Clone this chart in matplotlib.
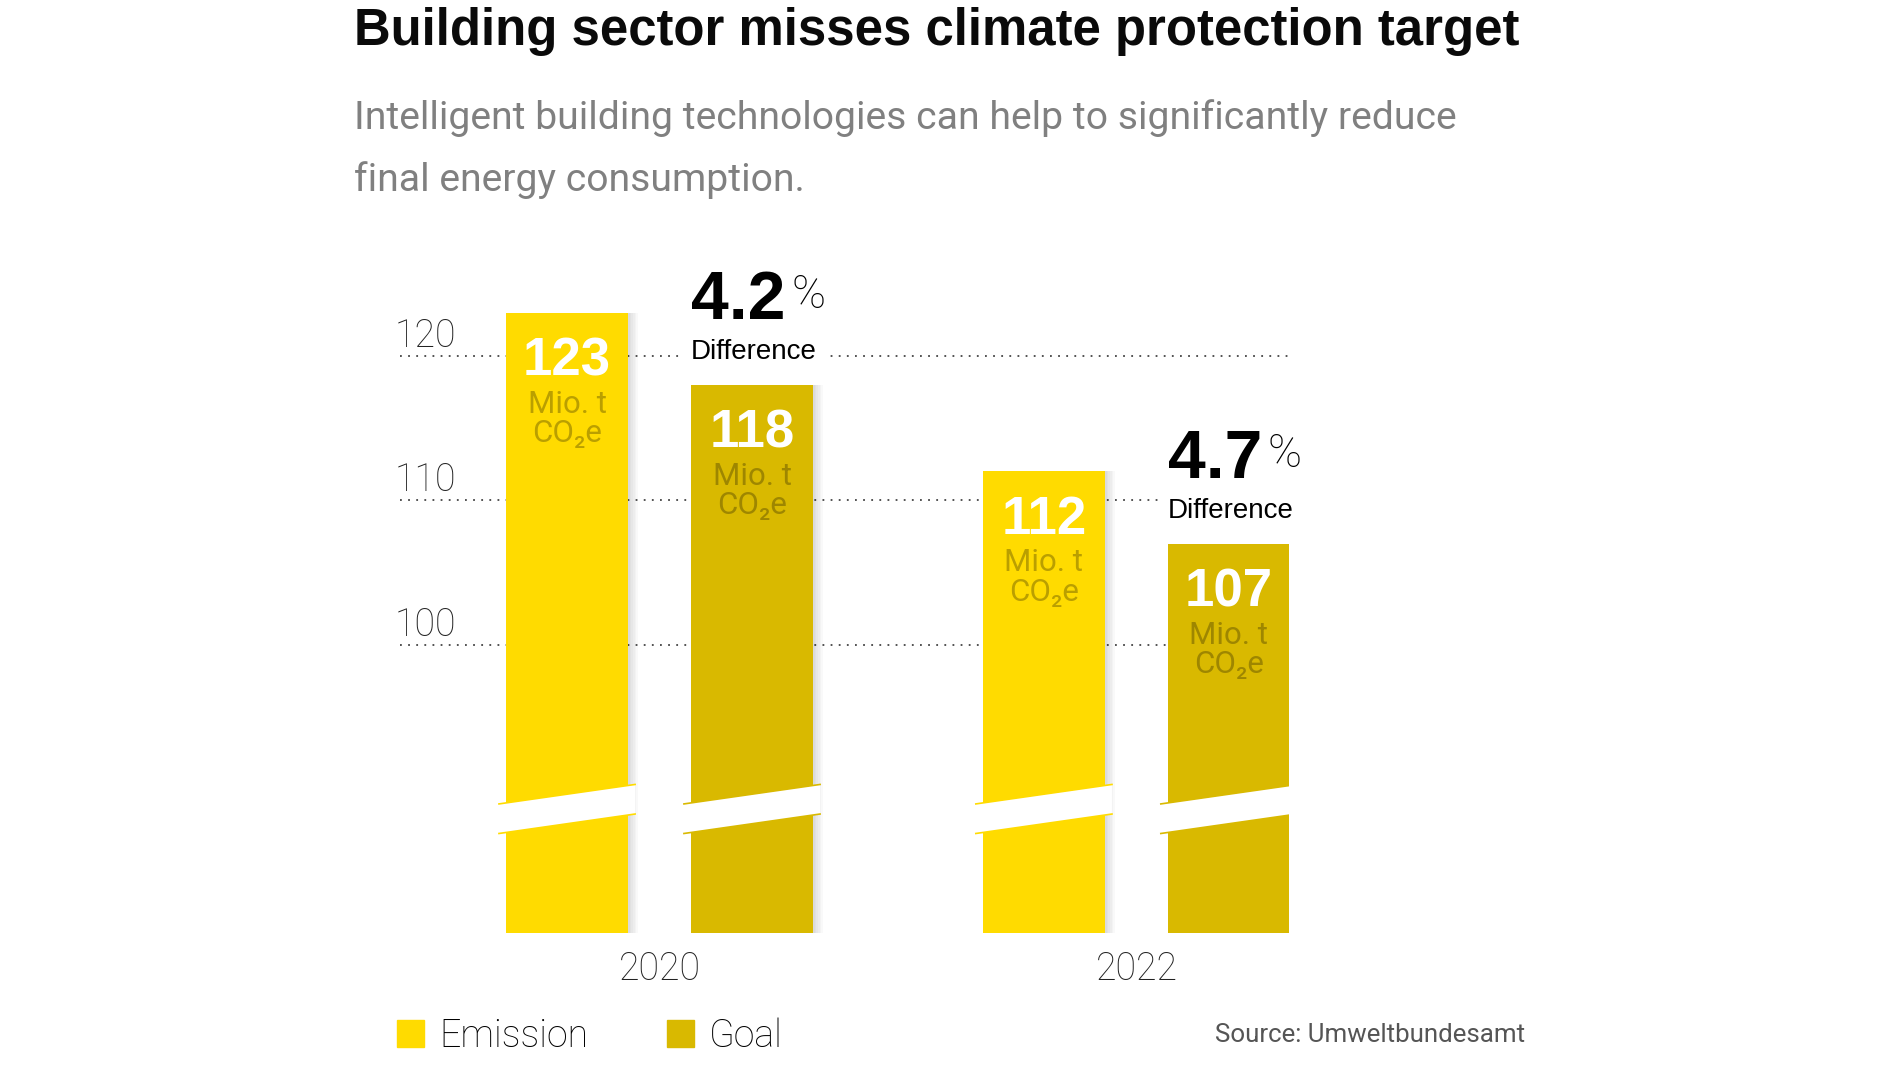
# building sector emissions vs climate target

import numpy as np
import matplotlib.pyplot as plt
from matplotlib.patches import Polygon, Patch

years = ["2020", "2022"]
series = ["Emission", "Goal"]
emission = [123, 112]
goal = [118, 107]
difference = ["4.2", "4.7"]
yticks = [100, 110, 120]
unit_top = "Mio. t"
unit_bottom = "CO₂e"

title = "Building sector misses climate protection target"
subtitle = ["Intelligent building technologies can help to significantly reduce",
            "final energy consumption."]
source = "Source: Umweltbundesamt"

yellow = "#FFDB00"
gold = "#D9B900"

LIGHT = ["Roboto", "DejaVu Sans"]
BOLD = ["Liberation Sans", "DejaVu Sans"]

W, H = 1900, 1069
fig = plt.figure(figsize=(W / 100, H / 100), dpi=100)
ax = fig.add_axes([400 / W, (H - 933) / H, 889 / W, (933 - 284) / H])
ax.set_xlim(-0.903, 3.903)
ax.set_ylim(80, 125)
ax.axis("off")

width = 0.66
x_em = np.arange(len(years)) * 2.578
x_go = x_em + 1

# dotted grid + labels sitting above the lines
for y in yticks:
    ax.axhline(y, color="#444", lw=1.3, ls=(0, (1, 3.5)), zorder=1)
    ax.annotate(str(y), (0, y), xycoords=ax.get_yaxis_transform(), xytext=(-4, 6.5),
                textcoords="offset points", ha="left", va="baseline", fontsize=27,
                family=LIGHT, fontweight="light", color="#222")

# soft shadow on the right
for xs, vals in ((x_em, emission), (x_go, goal)):
    for k in range(1, 7):
        ax.bar(xs + k * 0.009, vals, width, color="k", alpha=0.022, zorder=2)

ax.bar(x_em, emission, width, color=yellow, zorder=3)
ax.bar(x_go, goal, width, color=gold, zorder=3)

# axis break marks
d = 0.038
for xs, c in ((x_em, yellow), (x_go, gold)):
    for x in xs:
        xl, xr = x - width / 2 - d, x + width / 2 + d
        ax.add_patch(Polygon([(xl, 86.9), (xr, 88.25), (xr, 90.3), (xl, 88.95)],
                             closed=True, fc="white", ec="none", zorder=4))
        ax.plot([xl, xr], [86.9, 88.25], color=c, lw=1.2, zorder=5)
        ax.plot([xl, xr], [88.95, 90.3], color=c, lw=1.2, zorder=5)

# values inside bars
for xs, vals in ((x_em, emission), (x_go, goal)):
    for x, v in zip(xs, vals):
        ax.annotate(str(v), (x, v), xytext=(0, -45), textcoords="offset points",
                    ha="center", va="baseline", fontsize=38, fontweight="bold",
                    family=BOLD, color="white", zorder=6)
        ax.annotate(unit_top, (x, v), xytext=(0, -72), textcoords="offset points",
                    ha="center", va="baseline", fontsize=22.5, family=LIGHT,
                    color="black", alpha=0.27, zorder=6)
        ax.annotate(unit_bottom, (x, v), xytext=(0, -93), textcoords="offset points",
                    ha="center", va="baseline", fontsize=22.5, family=LIGHT,
                    color="black", alpha=0.27, zorder=6)

# difference labels above goal bars
for x, v, pct in zip(x_go, goal, difference):
    xl = x - width / 2
    t = ax.annotate(pct, (xl, v), xytext=(0, 47.5), textcoords="offset points",
                    ha="left", va="baseline", fontsize=49, fontweight="bold",
                    family=BOLD, color="black", zorder=6)
    ax.annotate("%", (1, 1), xycoords=t, xytext=(4, -3), textcoords="offset points",
                ha="left", va="top", fontsize=33, fontweight="light",
                family=LIGHT, color="black", zorder=6)
    ax.annotate("Difference", (xl, v), xytext=(0, 18.4), textcoords="offset points",
                ha="left", va="baseline", fontsize=20, family=BOLD, color="black",
                zorder=6, bbox=dict(fc="white", ec="none", boxstyle="square,pad=0.35"))

for x, yr in zip((x_em + x_go) / 2, years):
    ax.annotate(yr, (x, 80), xytext=(0, -34), textcoords="offset points",
                ha="center", va="baseline", fontsize=27, fontweight="light",
                family=LIGHT, color="#222")

fig.text(354 / W, 1 - 45 / H, title, fontsize=36.6, fontweight="bold", family=BOLD,
         color="#0a0a0a", ha="left", va="baseline")
for i, line in enumerate(subtitle):
    fig.text(354 / W, 1 - (129 + 62 * i) / H, line, fontsize=28.2, family=LIGHT,
             color="#808080", ha="left", va="baseline")

handles = [Patch(color=yellow), Patch(color=gold)]
fig.legend(handles, series, loc="center left", bbox_to_anchor=(397 / W, 1 - 1036 / H),
           frameon=False, ncol=2, handlelength=0.72, handleheight=0.72,
           handletextpad=0.4, columnspacing=2.1, borderpad=0, borderaxespad=0,
           prop=dict(family=LIGHT, size=27, weight="light"))

fig.text(1525 / W, 1 - 1042 / H, source, fontsize=18.6, family=LIGHT,
         color="#555", ha="right", va="baseline")

fig.savefig("out.png", dpi=100, facecolor="white")
